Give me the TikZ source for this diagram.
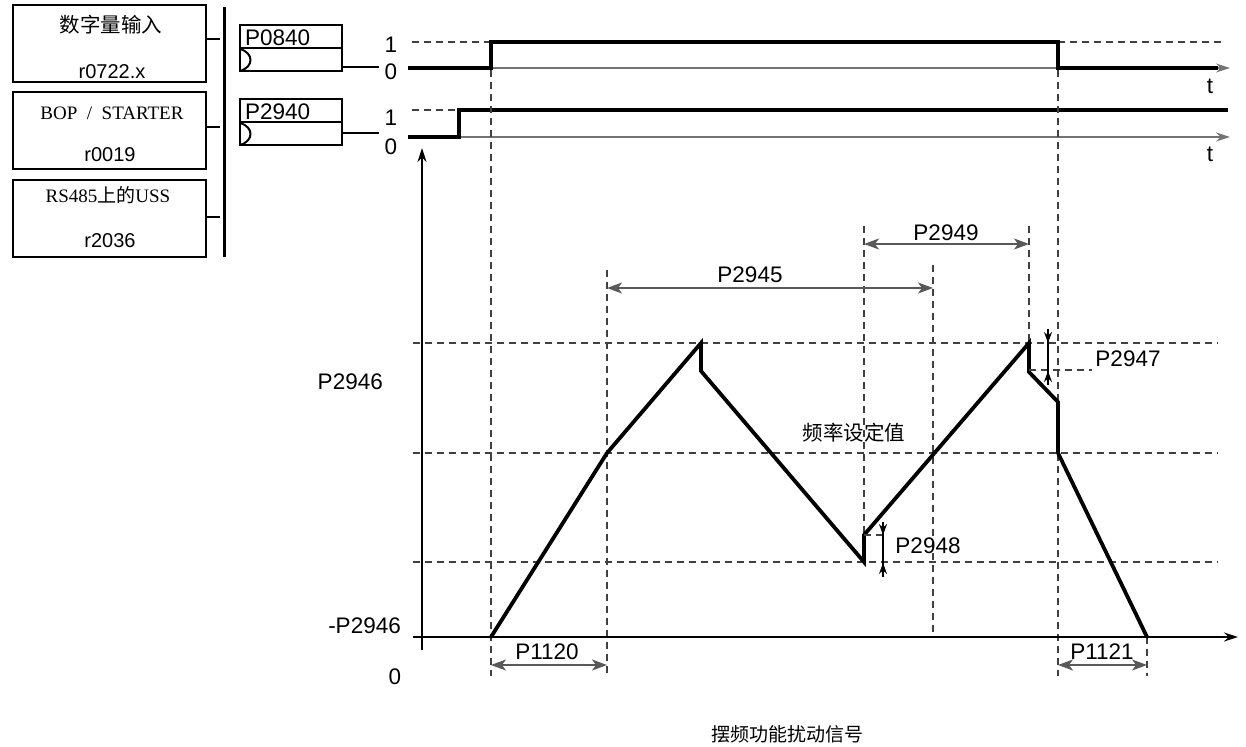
\documentclass[tikz,border=0pt]{standalone}
\usepackage{fontspec}
\setmainfont{Liberation Sans}
\newfontfamily\cjkfont{Noto Sans CJK SC}
\newfontfamily\serlat{Liberation Serif}
\usetikzlibrary{arrows.meta}
\begin{document}
\begin{tikzpicture}[x=1pt,y=-1pt,
  lab/.style={font=\fontsize{22.5}{26}\selectfont, inner sep=0pt},
  small/.style={font=\fontsize{20}{23}\selectfont, inner sep=0pt},
  cjk/.style={font=\fontsize{20.5}{24}\selectfont\cjkfont, inner sep=0pt},
  sertext/.style={font=\fontsize{19}{22}\selectfont\serlat, inner sep=0pt},
  gridline/.style={draw=black!75, line width=1.1pt, dash pattern=on 7pt off 5pt},
  wave/.style={line width=3.8pt, line join=miter, line cap=round},
  sig/.style={line width=3.4pt},
  taxis/.style={draw=black!55, line width=1.2pt, -{Stealth[length=14pt,width=9pt]}},
  axis/.style={draw=black, line width=1.6pt, -{Stealth[length=14pt,width=9pt]}},
  dimline/.style={draw=black!65, line width=1.3pt, {Stealth[length=15pt,width=11pt,inset=4pt]}-{Stealth[length=15pt,width=11pt,inset=4pt]}},
  tick/.style={draw=black, line width=1.5pt, -{Stealth[length=11pt,width=8pt]}},
  srcbox/.style={draw, line width=2pt, minimum width=193pt, minimum height=77pt, inner sep=0pt},
  parbox/.style={draw, line width=2pt, minimum width=102pt, minimum height=46pt, inner sep=0pt},
  stub/.style={line width=2pt}
]
\useasboundingbox (0,0) rectangle (1246,746);

% source boxes
\node[srcbox] (b1) at (109,43.5) {};
\node[srcbox] (b2) at (109,131) {};
\node[srcbox] (b3) at (109,218.5) {};
\node[cjk] (t1a) at (111,25) {数字量输入};
\node[small] (t1b) at (112,72) {r0722.x};
\node[sertext] (t2a) at (112,113) {BOP\ \ /\ \ STARTER};
\node[small] (t2b) at (110,155) {r0019};
\node[sertext] (t3a) at (108,195) {RS485{\cjkfont 上的}USS};
\node[small] (t3b) at (110,241) {r2036};
\draw[stub] (b1.east) ++(0,-4) -- ++(13,0);
\draw[stub] (b2.east) ++(0,-4) -- ++(13,0);
\draw[stub] (b3.east) ++(0,-2) -- ++(13,0);
\coordinate (bartop) at (224,7);
\coordinate (barbot) at (224,257);
\draw[line width=3pt] (bartop) -- (barbot);

% parameter boxes
\node[parbox] (pb1) at (291,48) {};
\draw[stub] (240,48) -- (342,48);
\draw[stub] (240,49) .. controls (254,53) and (254,67) .. (240,71);
\node[lab, anchor=base west] (pb1t) at (245,45.5) {P0840};
\draw[line width=2.2pt] (pb1.east) ++(0,19) -- ++(36,0);

\node[parbox] (pb2) at (291,122) {};
\draw[stub] (240,122) -- (342,122);
\draw[stub] (240,123) .. controls (254,127) and (254,141) .. (240,145);
\node[lab, anchor=base west] (pb2t) at (245,119.5) {P2940};
\draw[line width=2.2pt] (pb2.east) ++(0,11) -- ++(36,0);

% timing 1
\node[lab] (one1) at (391,45) {1};
\node[lab] (zero1) at (391,72) {0};
\draw[gridline] (412,42) -- (491,42);
\draw[gridline] (1058,42) -- (1225,42);
\draw[taxis] (408,68) -- (1230,68);
\draw[sig] (408,68) -- (491,68) -- (491,42) -- (1058,42) -- (1058,68) -- (1218,68);
\node[lab] (tt1) at (1210,86) {t};

% timing 2
\node[lab] (one2) at (391,118) {1};
\node[lab] (zero2) at (391,147) {0};
\draw[gridline] (412,110) -- (459,110);
\draw[taxis] (408,137) -- (1230,137);
\draw[sig] (408,137) -- (459,137) -- (459,110) -- (1228,110);
\node[lab] (tt2) at (1210,154) {t};

% grid
\foreach \yy in {343,453,562} \draw[gridline] (413,\yy) -- (1218,\yy);
\draw[gridline] (491,70) -- (491,676);
\draw[gridline] (607,270) -- (607,676);
\draw[gridline] (864,226) -- (864,562);
\draw[gridline] (933,265) -- (933,637);
\draw[gridline] (1029,226) -- (1029,343);
\draw[gridline] (1058,70) -- (1058,676);
\draw[gridline] (1147,637) -- (1147,676);

% axes
\draw[axis] (422,650) -- (422,148);
\draw[axis] (413,637) -- (1238,637);
\node[lab, anchor=east] (lp) at (383,382) {P2946};
\node[lab, anchor=east] (lm) at (401,626) {-P2946};
\node[lab] (l0) at (395,677) {0};

% waveform
\draw[wave] (491,637) -- (607,453) -- (701,343) -- (701,371) -- (864,562) -- (864,535)
  -- (1029,343) -- (1029,372) -- (1058,402) -- (1058,453) -- (1147,637);

% dimensions
\draw[dimline] (607,288) -- (933,288);
\node[lab] (d2945) at (750,275) {P2945};
\draw[dimline] (864,244) -- (1029,244);
\node[lab] (d2949) at (946,233) {P2949};
\draw[dimline] (491,665) -- (607,665);
\node[lab] (d1120) at (547,652) {P1120};
\draw[dimline] (1058,665) -- (1147,665);
\node[lab] (d1121) at (1102,652) {P1121};

% P2947
\draw[gridline] (1029,370) -- (1092,370);
\draw[line width=1.5pt] (1048,329) -- (1048,385);
\draw[tick] (1048,329) -- (1048,343);
\draw[tick] (1048,385) -- (1048,371);
\node[lab] (d2947) at (1128,359) {P2947};

% P2948
\draw[gridline] (864,535) -- (885,535);
\draw[line width=1.5pt] (883,522) -- (883,577);
\draw[tick] (883,522) -- (883,535);
\draw[tick] (883,577) -- (883,563);
\node[lab] (d2948) at (928,546) {P2948};

\node[cjk] (fset) at (854,433) {频率设定值};
\node[cjk, font=\fontsize{19}{22}\selectfont\cjkfont] (title) at (787,734) {摆频功能扰动信号};
\end{tikzpicture}
\end{document}
